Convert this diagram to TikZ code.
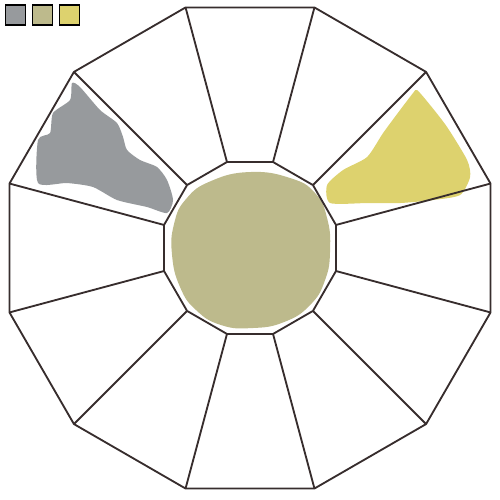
\documentclass[tikz,border=0pt]{standalone}
\usepackage{tikz}
\usetikzlibrary{positioning}
\definecolor{ink}{RGB}{55,45,45}
\definecolor{slategrey}{RGB}{151,154,157}
\definecolor{khaki}{RGB}{189,186,140}
\definecolor{straw}{RGB}{221,210,110}
\tikzstyle{every node}+=[inner sep=0pt]
\tikzstyle{swatch} = [rectangle, draw, line width=0.8pt, minimum size=0.4cm]
\tikzstyle{line} = [draw, ink, line width=1.05pt, line join=round]
\tikzstyle{patch} = [draw=none]

\begin{document}
\begin{tikzpicture}[node distance=0.54cm]
            \useasboundingbox (0,0) rectangle (10,10);
            % Place swatches
            \node [swatch, fill=slategrey] (sw1) at (0.31,9.70) {};
            \node [swatch, fill=khaki, right of=sw1] (sw2) {};
            \node [swatch, fill=straw, right of=sw2] (sw3) {};
            % Colour patches
            \begin{scope}[x=0.02cm, y=-0.02cm, yshift=10cm]
            \fill [patch, slategrey] plot [smooth cycle, tension=0.4] coordinates {(72,83) (80,87) (100,110) (117,123) (123,137) (127,150) (140,160) (157,167) (167,180) (173,200) (167,213) (147,207) (117,200) (93,187) (67,183) (38,183) (38,140) (50,133) (53,113) (70,100)};
            \fill [patch, straw] plot [smooth cycle, tension=0.4] coordinates {(417,90) (430,105) (447,127) (467,160) (470,177) (460,195) (433,200) (400,203) (367,203) (330,203) (327,185) (343,170) (367,157) (383,133) (400,110) (413,93)};
            \fill [patch, khaki] plot [smooth cycle, tension=0.8] coordinates {(250,172) (290,178) (315,193) (327,218) (330,250) (325,280) (310,305) (284,322) (252,328) (221,325) (196,310) (180,287) (172,255) (174,224) (186,199) (211,181)};
            \end{scope}
            % Place corners
            \begin{scope}[shift={(5,5.04)}]
            \foreach \k in {0,...,11} {
                \coordinate (out\k) at (15+30*\k:4.98);
                \coordinate (in\k) at (15+30*\k:1.78);
            }
            \end{scope}
            % Draw rings
            \path [line] (out0) -- (out1) -- (out2) -- (out3) -- (out4) -- (out5) -- (out6) -- (out7) -- (out8) -- (out9) -- (out10) -- (out11) -- cycle;
            \path [line] (in0) -- (in1) -- (in2) -- (in3) -- (in4) -- (in5) -- (in6) -- (in7) -- (in8) -- (in9) -- (in10) -- (in11) -- cycle;
            % Draw spokes
            \foreach \k in {0,...,11}
                \path [line] (in\k) -- (out\k);
            \end{tikzpicture}
\end{document}
